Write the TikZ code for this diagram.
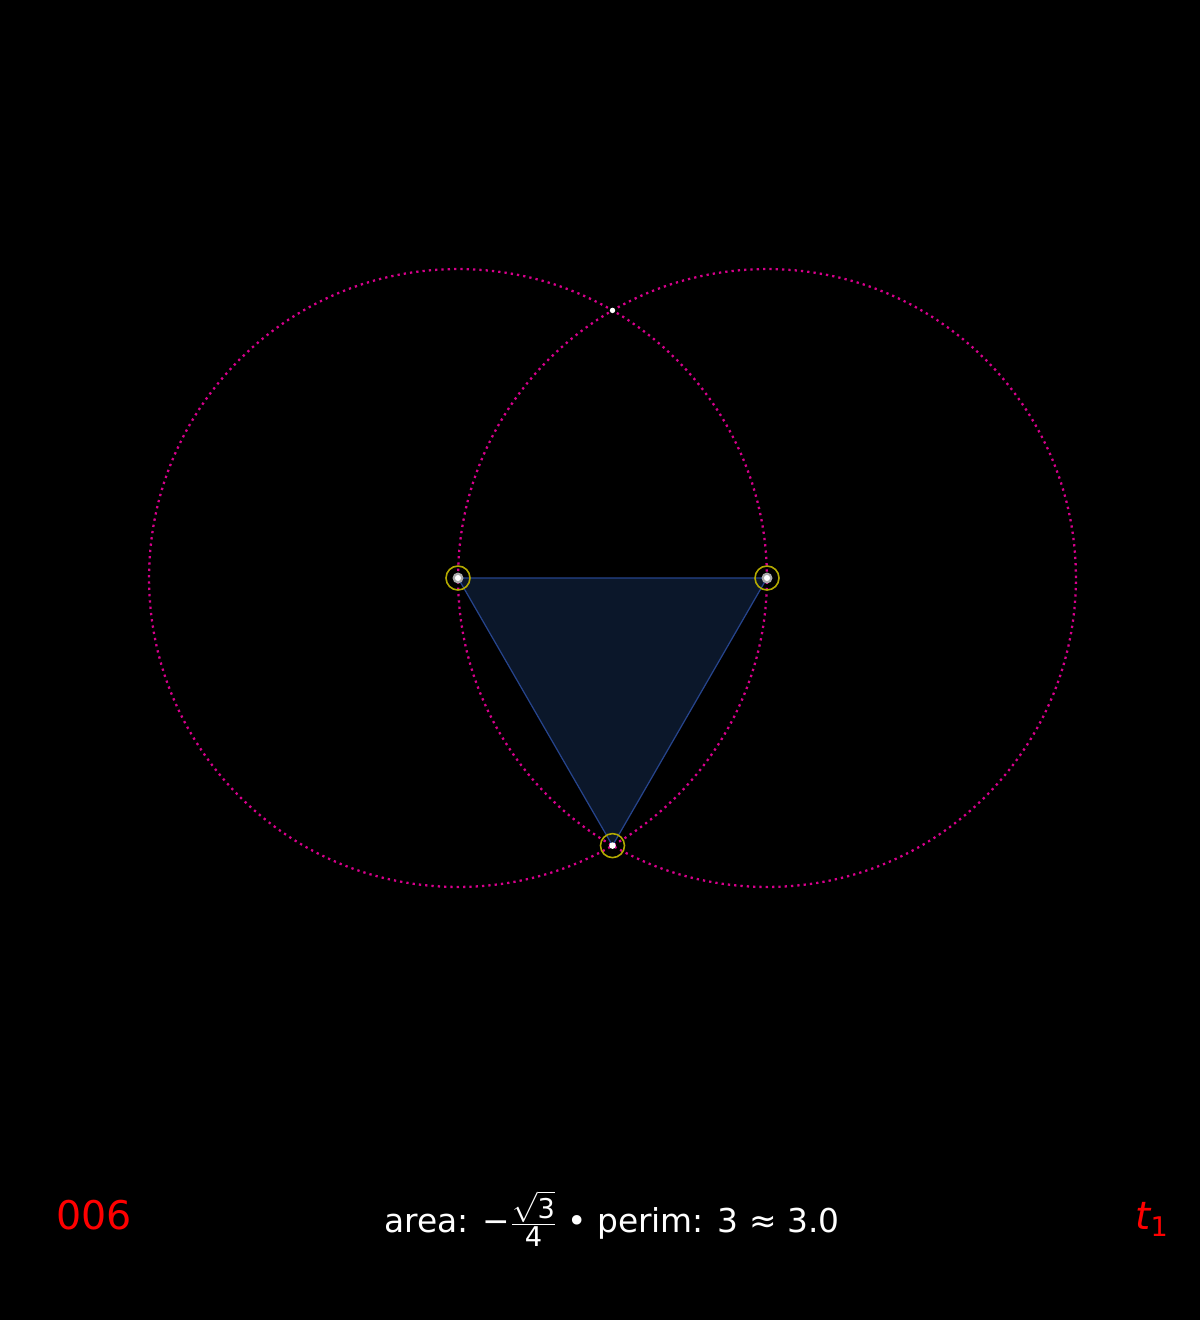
\documentclass[tikz,border=0pt]{standalone}
\usepackage{amsmath}
\usepackage{fontspec}
\setmainfont{DejaVu Sans}
\definecolor{bgblack}{RGB}{0,0,0}
\definecolor{ringmagenta}{RGB}{215,0,140}
\definecolor{trifill}{RGB}{11,23,42}
\definecolor{triedge}{RGB}{38,68,140}
\definecolor{markyellow}{RGB}{180,170,0}
\definecolor{markgray}{RGB}{170,170,170}
\definecolor{labelred}{RGB}{255,0,0}
\usetikzlibrary{calc}

\tikzset{
  ring/.style={ringmagenta,line width=1.3pt,dash pattern=on 1.3pt off 2.3pt},
  tri/.style={fill=trifill,draw=triedge,line width=0.7pt,line join=round},
  halo/.style={draw=markyellow,line width=0.9pt},
}

\begin{document}
\begin{tikzpicture}[x=0.02cm,y=-0.02cm]
  \fill[bgblack] (0,0) rectangle (1200,1320);
  \useasboundingbox (0,0) rectangle (1200,1320);
  % centres and vertices
  \coordinate (a) at (458,578);
  \coordinate (b) at (767,578);
  \coordinate (c) at (612.5,845.6);
  \coordinate (top) at (612.5,310.4);
  % two circles through each other's centre
  \draw[ring] (a) circle[radius=6.18cm];
  \draw[ring] (b) circle[radius=6.18cm];
  \draw[tri] (a) -- (b) -- (c) -- cycle;
  % vertex marks
  \foreach \v in {a,b,c}{\draw[halo] (\v) circle[radius=12];}
  \foreach \v in {a,b}{\fill[markgray] (\v) circle[radius=5.5];}
  \foreach \v in {a,b}{\fill[white] (\v) circle[radius=3];}
  \fill[white] (c) circle[radius=3.3];
  \fill[white] (top) circle[radius=2.7];
  % bottom labels
  \node[labelred,font=\fontsize{22.5}{27}\selectfont,anchor=base] (frame) at (94,1229) {006};
  \node[white,font=\fontsize{18.7}{23}\selectfont,anchor=base] (stats) at (612,1232)
    {area: −$\frac{\sqrt{\text{\fontsize{15.5}{17}\selectfont 3}}}{\text{\fontsize{15.5}{17}\selectfont 4}}$ • perim: 3 ≈ 3.0};
  \node[labelred,font=\fontsize{22}{26}\selectfont,anchor=base] (time) at (1152,1229)
    {\itshape t\textsubscript{\upshape 1}};
\end{tikzpicture}
\end{document}
